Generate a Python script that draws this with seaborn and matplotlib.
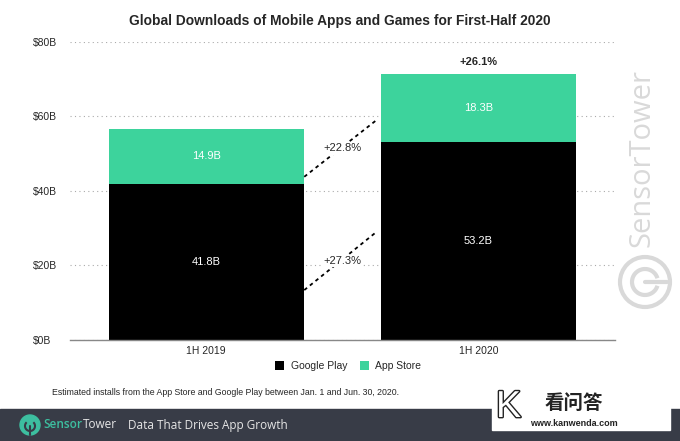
import matplotlib
matplotlib.use("Agg")
import matplotlib.pyplot as plt
import matplotlib.patheffects as pe
import seaborn as sns
import pandas as pd
from matplotlib.patches import Rectangle, Ellipse, Arc

sns.set_theme(style="white")
plt.rcParams["font.family"] = ["Liberation Sans", "DejaVu Sans"]

# ── data ─────────────────────────────────────────────────────────────────────
periods = ["1H 2019", "1H 2020"]
google_play = [41.8, 53.2]
app_store = [14.9, 18.3]
growth_gp = "+27.3%"
growth_as = "+22.8%"
growth_total = "+26.1%"
yticks = [0, 20, 40, 60, 80]

GREEN = "#3dd39c"
BLACK = "#000000"
W, H = 680, 441

df = pd.DataFrame({"period": periods, "gp": google_play, "as": app_store})
df["total"] = df["gp"] + df["as"]

fig = plt.figure(figsize=(6.8, 4.41), dpi=100)
ax = fig.add_axes([0.103, 0.229, 0.801, 0.676])

sns.barplot(data=df, x="period", y="total", color=GREEN, width=0.715,
            saturation=1, linewidth=0, ax=ax, label="App Store")
sns.barplot(data=df, x="period", y="gp", color=BLACK, width=0.715,
            saturation=1, linewidth=0, ax=ax, label="Google Play")
handles, labels = ax.get_legend_handles_labels()
if ax.get_legend() is not None:
    ax.get_legend().remove()

for i, row in df.iterrows():
    ax.text(i, row["gp"] / 2, f"{row['gp']}B", ha="center", va="center",
            color="white", fontsize=8)
    ax.text(i, row["gp"] + row["as"] / 2, f"{row['as']}B", ha="center",
            va="center", color="white", fontsize=8)

ax.text(1, df["total"][1] + 3, growth_total, ha="center", va="center",
        fontsize=8, fontweight="bold")

# dashed growth connectors
ax.plot([0.36, 0.625], [13.4, 29.0], ls=(0, (2, 2)), color=BLACK, lw=1.3)
ax.plot([0.36, 0.625], [43.8, 59.0], ls=(0, (2, 2)), color=BLACK, lw=1.3)
ax.text(0.5, 21.2, growth_gp, ha="center", va="center", fontsize=8,
        bbox=dict(facecolor="white", edgecolor="none", pad=1))
ax.text(0.5, 51.4, growth_as, ha="center", va="center", fontsize=8,
        bbox=dict(facecolor="white", edgecolor="none", pad=1))

ax.set_xlim(-0.5, 1.5)
ax.set_ylim(0, 80)
ax.set_yticks(yticks)
ax.set_yticklabels([f"${v}B" for v in yticks], fontsize=7.5)
ax.tick_params(axis="x", labelsize=7.5, length=0, pad=4)
ax.tick_params(axis="y", length=0, pad=27)
for lab in ax.get_yticklabels():
    lab.set_horizontalalignment("left")
ax.set_xlabel("")
ax.set_ylabel("")
ax.set_axisbelow(True)
ax.yaxis.grid(True, ls=(0, (1, 3)), color="#aaaaaa", lw=0.8)
for s in ["top", "right", "left"]:
    ax.spines[s].set_visible(False)
ax.spines["bottom"].set_color("#888888")
ax.spines["bottom"].set_linewidth(1)

order = [labels.index("Google Play"), labels.index("App Store")]
fig.legend([handles[k] for k in order], [labels[k] for k in order],
           loc="center", bbox_to_anchor=(0.512, 0.17), ncol=2,
           frameon=False, fontsize=7.5, handlelength=0.9,
           handleheight=0.9, columnspacing=1.2, handletextpad=0.6)

fig.text(0.5, 0.953, "Global Downloads of Mobile Apps and Games for First-Half 2020",
         ha="center", va="center", fontsize=9.9, fontweight="bold")
fig.text(0.077, 0.111, "Estimated installs from the App Store and Google Play between Jan. 1 and Jun. 30, 2020.",
         ha="left", va="center", fontsize=6.3)

# SensorTower watermark
WM = "#d9d9d9"
fig.text(642 / W, 1 - 158 / H, "SensorTower", rotation=90, ha="center",
         va="center", fontsize=21, color=WM, family="Open Sans")
cx, cy = 645 / W, 1 - 282 / H
fig.patches.append(Ellipse((cx, cy), 50 / W, 50 / H, transform=fig.transFigure,
                           fill=False, ec=WM, lw=3))
fig.patches.append(Arc((cx, cy), 26 / W, 26 / H, theta1=25, theta2=335,
                       transform=fig.transFigure, ec=WM, lw=3))
fig.lines.append(plt.Line2D([cx, cx + 22 / W], [cy, cy], transform=fig.transFigure,
                            color=WM, lw=3))

# footer band
fig.patches.append(Rectangle((0, 0), 1, 32 / H, transform=fig.transFigure,
                             color="#383c47", zorder=0))
fig.patches.append(Ellipse((30 / W, 16 / H), 20 / W, 20 / H,
                           transform=fig.transFigure, color="#3dbfa0"))
fig.patches.append(Arc((30 / W, 15 / H), 10 / W, 10 / H, theta1=120, theta2=60,
                       transform=fig.transFigure, ec="#383c47", lw=1.5))
fig.lines.append(plt.Line2D([30 / W, 30 / W], [6 / H, 15 / H], transform=fig.transFigure,
                            color="#383c47", lw=1.5))
fig.text(43 / W, 16 / H, "Sensor", ha="left", va="center", fontsize=8.5,
         color="#3dbfa0", family="Open Sans", fontweight="semibold")
fig.text(83 / W, 16 / H, "Tower", ha="left", va="center", fontsize=8.5,
         color="#e6e6e6", family="Open Sans")
fig.text(128 / W, 16 / H, "Data That Drives App Growth", ha="left",
         va="center", fontsize=8.5, color="#e6e6e6", family="Open Sans")

# site watermark box
fig.patches.append(Rectangle((492 / W, 11 / H), 178 / W, 47 / H,
                             transform=fig.transFigure, color="white"))
fig.text(545 / W, 1 - 403 / H, "看问答", ha="left", va="center", fontsize=14,
         fontweight="bold", color="#222222",
         family=["Noto Sans CJK SC", "DejaVu Sans"])
fig.text(530 / W, 1 - 423 / H, "www.kanwenda.com", ha="left", va="center",
         fontsize=6.5, fontweight="bold", color="#222222")
fig.text(496 / W, 1 - 407 / H, "K", ha="left", va="center", fontsize=27,
         color="white", path_effects=[pe.withStroke(linewidth=2, foreground="#222222")])

fig.savefig("out.png", dpi=100)
